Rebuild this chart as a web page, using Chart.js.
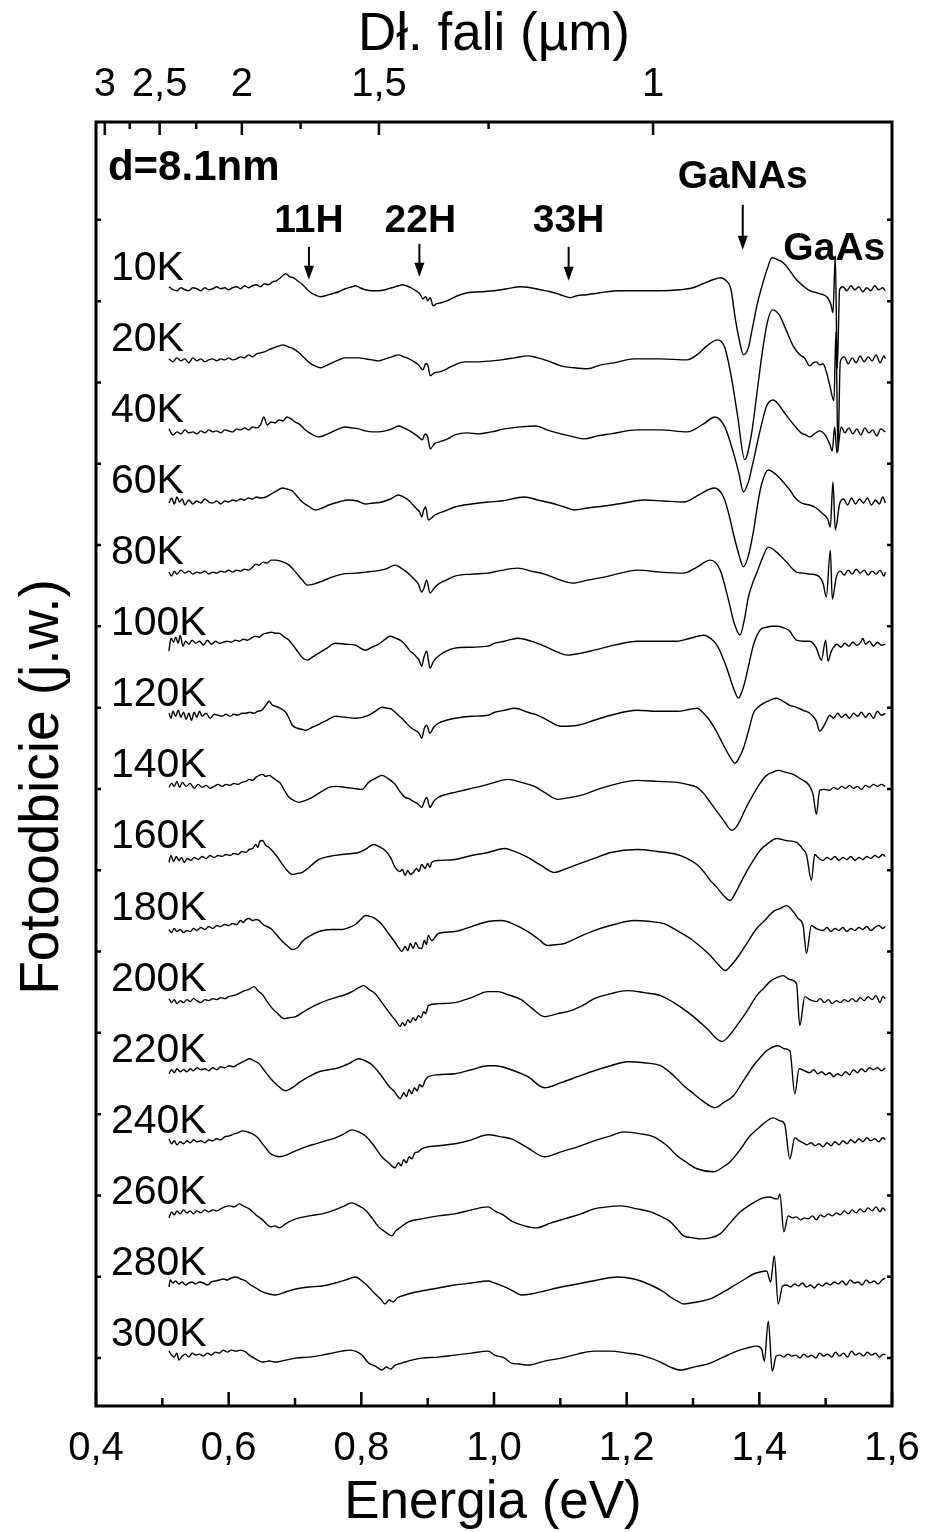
<!DOCTYPE html>
<html><head><meta charset="utf-8">
<script src="https://cdn.jsdelivr.net/npm/chart.js@4.4.1/dist/chart.umd.min.js"></script>
<style>html,body{margin:0;padding:0;background:#fff;overflow:hidden}#wrap{width:928px;height:1532px;position:relative}</style>
</head><body><div id="wrap"><canvas id="c"></canvas></div>
<script>
// ---- data ----
const temperatures = ['10K','20K','40K','60K','80K','100K','120K','140K','160K','180K','200K','220K','240K','260K','280K','300K'];
const spectrumShift = 71.2;           // vertical shift between successive spectra (a.u.)
const energyTicks = [0.4,0.6,0.8,1.0,1.2,1.4,1.6];
const energyMinorTicks = [0.5,0.7,0.9,1.1,1.3,1.5];
const wavelengthTicks = [3,2.5,2,1.5,1];
const wavelengthMinorTicks = [2.75,2.25,1.75,1.25];
const HC = 1.2398; // eV·µm

// each spectrum: pairs of [energy (eV), photoreflectance signal (a.u.)]
const s10K = [.510,2,.516,-1,.522,-2,.528,1,.534,-1,.540,-2,.546,1,.552,0,.558,-2,.564,1,.570,-1,.576,0,.582,2,.588,0,.594,1,.600,-1,.606,1,.612,2,.618,0,.624,3,.630,1,.636,3,.642,4,.648,2,.654,5,.660,4,.666,7,.672,8,.678,11,.686,15,.692,12,.698,11,.704,8,.710,5,.716,1,.722,-3,.730,-6,.738,-8,.746,-7,.756,-5,.766,-3,.776,0,.786,2,.791,3,.798,1,.806,-1,.816,-2,.826,-2,.836,-1,.846,1,.856,3,.862,4,.868,3,.875,1,.882,-2,.888,-5,.893,-10,.897,-8,.900,-12,.904,-9,.908,-17,.914,-15,.920,-14,.930,-12,.945,-7,.960,-4,.980,-3,1.000,-2,1.020,0,1.040,2,1.055,1,1.070,-1,1.085,-3,1.100,-6,1.115,-9,1.125,-7,1.140,-6,1.160,-4,1.190,-2,1.220,-2,1.250,-2,1.280,-1,1.300,1,1.315,5,1.330,9,1.342,11,1.350,8,1.357,0,1.364,-31,1.370,-52,1.376,-66,1.383,-60,1.390,-38,1.397,-15,1.405,5,1.412,20,1.419,31,1.428,29,1.436,26,1.446,18,1.456,9,1.466,3,1.476,-2,1.486,-4,1.496,-6,1.503,-9,1.508,-16,1.511,-24,1.5145,33,1.5175,-80,1.521,-1,1.526,2,1.532,-2,1.538,3,1.544,-1,1.550,2,1.556,-3,1.562,1,1.568,-2,1.574,3,1.580,-1,1.586,1,1.590,-2];
const s20K = [.510,1,.516,-2,.522,2,.528,-1,.534,1,.540,-3,.546,2,.552,-1,.558,1,.564,-2,.570,0,.576,1,.582,-1,.588,1,.594,0,.600,2,.606,0,.612,1,.618,3,.624,2,.630,5,.636,3,.642,6,.648,7,.654,8,.660,10,.668,12,.676,14,.682,15,.690,13,.698,11,.706,7,.714,2,.722,-3,.730,-6,.738,-8,.746,-6,.756,-3,.766,0,.776,2,.786,2,.796,2,.806,1,.816,0,.826,-1,.836,1,.846,3,.856,5,.864,3,.872,1,.880,-2,.886,-5,.893,-10,.897,-4,.900,-5,.904,-16,.910,-13,.918,-12,.926,-10,.941,-5,.956,-2,.976,-2,.996,-1,1.011,0,1.031,2,1.051,4,1.066,2,1.081,-1,1.101,-6,1.121,-8,1.141,-9,1.161,-5,1.181,-3,1.211,1,1.251,1,1.291,0,1.306,5,1.321,14,1.337,20,1.348,12,1.358,-18,1.367,-55,1.378,-100,1.388,-75,1.397,-30,1.405,10,1.413,40,1.420,50,1.430,45,1.441,29,1.451,14,1.461,5,1.468,2,1.476,-6,1.481,-3,1.486,-2,1.491,-5,1.496,-4,1.501,-12,1.506,-25,1.5125,-41,1.5155,28,1.5185,-92,1.522,-2,1.528,3,1.534,-4,1.540,2,1.546,-3,1.552,4,1.558,-2,1.564,3,1.570,-1,1.576,5,1.582,-3,1.588,4,1.590,1];
const s40K = [.510,2,.516,-4,.522,-1,.528,-3,.534,1,.540,-2,.546,-1,.552,-3,.558,0,.564,-2,.570,1,.576,-1,.582,0,.588,-2,.594,1,.600,0,.606,-1,.612,2,.618,1,.624,3,.630,1,.636,4,.642,3,.648,6,.653,14,.658,6,.664,9,.670,8,.676,11,.682,10,.688,14,.694,12,.700,9,.706,7,.714,2,.722,-2,.730,-5,.736,-6,.746,-4,.756,-1,.766,2,.776,4,.786,3,.796,2,.806,0,.816,-1,.826,-1,.836,0,.846,2,.856,5,.864,3,.873,0,.882,-4,.888,-7,.892,-9,.896,-3,.900,-6,.904,-18,.910,-13,.918,-11,.930,-8,.941,-4,.960,-2,.976,-3,.996,-1,1.016,2,1.040,4,1.063,5,1.080,1,1.101,-3,1.120,-6,1.136,-8,1.156,-5,1.176,-3,1.216,1,1.251,1,1.291,-1,1.316,7,1.333,14,1.348,4,1.361,-22,1.369,-42,1.376,-61,1.384,-50,1.391,-30,1.401,0,1.411,25,1.421,31,1.436,20,1.446,11,1.456,3,1.463,-2,1.470,-4,1.476,-6,1.483,-3,1.491,0,1.498,-3,1.506,-13,1.510,-20,1.5135,4,1.517,-22,1.5235,4,1.529,-2,1.535,3,1.541,-3,1.547,2,1.553,-4,1.559,3,1.565,-2,1.571,1,1.577,-5,1.583,2,1.590,-1];
const s60K = [.510,-1,.514,4,.518,-2,.522,5,.526,0,.530,3,.534,-3,.540,2,.546,-2,.552,1,.558,-1,.564,3,.570,0,.576,-1,.582,1,.588,-2,.594,1,.600,0,.606,2,.612,1,.618,3,.624,2,.630,4,.636,3,.642,5,.648,4,.656,5,.664,8,.672,11,.681,14,.688,13,.696,11,.704,5,.711,0,.720,-4,.731,-8,.741,-6,.751,-3,.766,0,.781,2,.794,1,.806,-2,.818,-1,.831,0,.844,3,.856,7,.864,5,.871,2,.878,-3,.8835,-7,.888,-10,.891,-15,.894,-8,.897,-5,.901,-18,.906,-16,.911,-13,.926,-9,.941,-5,.966,-2,.991,0,1.011,1,1.046,5,1.066,2,1.086,-1,1.106,-5,1.121,-8,1.141,-6,1.166,-4,1.196,-1,1.226,2,1.256,1,1.286,0,1.311,8,1.332,14,1.346,5,1.354,-12,1.361,-32,1.369,-52,1.376,-65,1.383,-55,1.391,-30,1.398,0,1.4035,18,1.4135,32,1.426,27,1.436,20,1.446,12,1.453,5,1.461,0,1.468,-2,1.476,-3,1.486,-6,1.496,-12,1.503,-17,1.507,-25,1.511,20,1.5145,-28,1.521,-2,1.527,3,1.533,-3,1.539,4,1.545,-2,1.551,3,1.557,-1,1.563,4,1.569,-3,1.575,2,1.581,-2,1.586,5,1.590,-1];
const s80K = [.510,1,.514,-3,.518,2,.522,-1,.528,3,.534,0,.540,2,.546,-1,.552,1,.558,0,.564,2,.570,-1,.576,1,.582,0,.588,2,.594,1,.600,3,.606,1,.612,3,.618,2,.624,4,.630,3,.636,6,.641,9,.646,8,.652,11,.658,10,.664,13,.671,13,.678,12,.686,10,.691,8,.697,4,.7035,-1,.711,-7,.7185,-12,.728,-11,.741,-8,.756,-4,.771,-1,.791,0,.806,1,.821,2,.836,4,.851,8,.860,5,.8685,1,.875,-3,.881,-7,.886,-11,.891,-19,.894,-16,.8985,-7,.9035,-20,.910,-15,.916,-11,.928,-7,.941,-3,.966,-1,.991,0,1.006,2,1.036,5,1.056,2,1.076,-1,1.096,-6,1.1185,-10,1.141,-7,1.166,-4,1.191,0,1.216,3,1.251,1,1.286,0,1.306,6,1.326,13,1.341,3,1.3535,-27,1.362,-50,1.371,-62,1.377,-48,1.3835,-24,1.390,-10,1.396,0,1.404,14,1.4135,26,1.426,21,1.441,11,1.456,1,1.466,0,1.476,-1,1.486,-2,1.491,-4,1.496,-10,1.501,-24,1.507,23,1.510,-26,1.516,-4,1.522,2,1.528,-2,1.534,3,1.540,-1,1.546,4,1.552,0,1.558,3,1.564,-2,1.570,2,1.576,-1,1.582,3,1.588,-3,1.590,1];
const s100K = [.510,-7,.513,6,.517,2,.520,7,.524,1,.527,9,.531,-2,.535,3,.540,0,.545,4,.550,1,.556,3,.562,-1,.568,4,.574,0,.580,3,.586,1,.592,2,.598,3,.604,2,.610,4,.616,3,.622,5,.628,4,.634,6,.640,8,.646,7,.652,10,.657,11,.664,12,.670,11,.676,11,.684,7,.691,4,.698,-2,.706,-9,.712,-14,.7185,-16,.726,-13,.736,-9,.748,-4,.761,1,.776,0,.791,-1,.806,-6,.816,-3,.826,0,.836,5,.8435,8,.852,6,.861,3,.868,-2,.8735,-7,.878,-9,.8835,-13,.887,-16,.891,-22,.894,-14,.8985,-7,.9035,-24,.909,-17,.916,-12,.928,-7,.941,-4,.966,-3,.991,-2,1.001,1,1.016,3,1.036,6,1.056,3,1.076,-2,1.096,-8,1.111,-11,1.131,-9,1.151,-6,1.181,-1,1.216,3,1.251,3,1.276,3,1.296,6,1.316,9,1.328,5,1.336,-1,1.344,-12,1.351,-24,1.361,-44,1.3685,-54,1.3735,-48,1.3785,-37,1.385,-18,1.391,-1,1.401,14,1.411,17,1.420,18,1.4285,18,1.438,16,1.446,13,1.451,8,1.456,4,1.466,3,1.476,3,1.481,1,1.486,-4,1.4935,-16,1.500,4,1.5035,-17,1.508,-8,1.511,-4,1.517,0,1.523,-3,1.529,1,1.535,-2,1.541,2,1.547,-1,1.553,2,1.556,6,1.560,0,1.566,3,1.572,-2,1.578,2,1.584,-1,1.590,0];
const s120K = [.510,2,.513,-3,.516,4,.520,-1,.524,5,.528,-2,.532,3,.536,-4,.540,2,.544,-5,.548,3,.552,-2,.556,4,.560,-1,.566,2,.572,-3,.578,1,.584,0,.590,-1,.596,1,.602,-1,.608,1,.614,0,.620,2,.626,2,.632,3,.638,2,.644,4,.650,5,.655,9,.661,14,.666,10,.671,9,.678,7,.686,3,.691,-3,.696,-10,.704,-13,.710,-14,.716,-15,.726,-12,.736,-9,.748,-5,.761,-1,.776,-2,.791,-3,.811,0,.821,4,.831,8,.840,7,.846,6,.854,1,.861,-3,.868,-8,.876,-13,.8835,-16,.887,-18,.891,-23,.895,-13,.8985,-10,.9035,-18,.909,-12,.916,-8,.928,-5,.941,-3,.966,-1,.991,0,1.001,3,1.016,5,1.031,7,1.051,3,1.066,0,1.081,-5,1.101,-11,1.126,-10,1.151,-5,1.176,0,1.216,5,1.246,4,1.276,4,1.296,6,1.306,7,1.316,2,1.326,-6,1.336,-17,1.346,-30,1.356,-42,1.3635,-48,1.370,-42,1.376,-33,1.384,-15,1.391,2,1.398,8,1.406,12,1.416,15,1.426,17,1.436,14,1.446,10,1.456,8,1.466,5,1.476,2,1.481,-1,1.486,-6,1.491,-16,1.496,-12,1.501,-6,1.506,0,1.512,-3,1.518,2,1.524,-2,1.530,1,1.536,-3,1.542,2,1.548,-1,1.554,3,1.560,-2,1.566,2,1.572,-3,1.578,4,1.584,0,1.590,2];
const s140K = [.510,-1,.514,3,.518,0,.522,5,.526,-1,.530,4,.536,0,.542,3,.548,-2,.554,2,.560,-1,.566,1,.572,-2,.578,0,.584,2,.590,0,.596,2,.602,1,.608,3,.614,2,.620,4,.626,5,.631,7,.636,6,.641,9,.646,11,.651,12,.656,10,.661,11,.666,9,.672,6,.678,3,.684,-4,.691,-11,.698,-14,.706,-16,.716,-14,.726,-11,.738,-6,.751,-1,.764,0,.776,-1,.788,-2,.801,-3,.811,4,.821,8,.831,11,.840,8,.846,5,.851,2,.858,-5,.866,-11,.871,-12,.876,-14,.881,-16,.886,-18,.891,-21,.895,-15,.8985,-11,.9035,-21,.909,-15,.916,-11,.928,-8,.941,-6,.966,-2,.991,2,1.001,4,1.021,7,1.041,4,1.061,0,1.076,-6,1.096,-13,1.116,-11,1.136,-8,1.156,-3,1.176,1,1.216,6,1.246,5,1.276,4,1.291,2,1.306,-1,1.316,-7,1.326,-16,1.336,-25,1.346,-34,1.3585,-44,1.366,-40,1.371,-34,1.381,-20,1.391,-8,1.401,3,1.411,11,1.420,14,1.4285,16,1.440,14,1.451,12,1.461,8,1.471,4,1.476,0,1.481,-8,1.486,-28,1.491,-4,1.498,-3,1.506,-4,1.512,-1,1.518,-3,1.524,0,1.530,-2,1.536,1,1.542,-2,1.548,0,1.554,-3,1.560,1,1.566,-1,1.572,2,1.578,0,1.584,2,1.590,0];
const s160K = [.510,-5,.513,2,.517,-4,.521,1,.525,-3,.529,0,.533,-5,.538,-1,.543,-3,.548,0,.554,-2,.560,1,.566,-1,.572,2,.578,0,.584,2,.590,1,.596,3,.602,2,.608,4,.614,3,.620,6,.626,5,.631,8,.636,9,.641,13,.644,10,.647,16,.651,17,.656,12,.661,10,.668,5,.674,0,.681,-7,.688,-13,.696,-17,.704,-16,.711,-15,.721,-10,.736,-2,.751,1,.771,3,.786,4,.796,5,.806,8,.8185,13,.826,11,.836,7,.844,0,.851,-10,.858,-14,.862,-12,.866,-18,.870,-13,.874,-17,.8785,-15,.883,-11,.887,-14,.891,-7,.896,-11,.900,-6,.9035,-10,.906,-5,.916,-3,.941,-2,.966,2,.991,5,1.016,9,1.031,6,1.051,0,1.071,-8,1.091,-15,1.106,-12,1.126,-7,1.151,-1,1.176,5,1.216,8,1.246,6,1.276,3,1.291,-1,1.306,-7,1.316,-14,1.326,-23,1.336,-30,1.346,-38,1.356,-43,1.366,-33,1.376,-20,1.388,-6,1.401,7,1.413,14,1.426,19,1.440,17,1.456,15,1.466,8,1.471,3,1.4785,-23,1.4835,3,1.490,-1,1.496,-3,1.502,0,1.508,-2,1.514,1,1.520,-3,1.526,0,1.532,-2,1.538,1,1.544,-3,1.550,0,1.556,-2,1.562,1,1.568,-1,1.574,2,1.580,0,1.586,3,1.590,1];
const s180K = [.510,-1,.514,-4,.518,0,.522,-3,.527,-1,.532,-4,.537,-2,.542,-3,.547,0,.552,-2,.558,1,.564,-1,.570,2,.576,0,.582,3,.588,2,.594,4,.600,3,.606,5,.612,4,.618,8,.622,6,.626,9,.631,10,.636,8,.641,9,.646,8,.652,4,.6635,0,.672,-6,.681,-13,.688,-17,.696,-21,.704,-19,.711,-13,.721,-8,.736,-3,.756,-1,.771,-1,.781,1,.791,4,.799,9,.806,13,.814,12,.821,10,.831,4,.841,-5,.851,-14,.856,-19,.861,-23,.866,-18,.870,-22,.874,-15,.878,-20,.882,-14,.886,-19,.891,-20,.895,-12,.898,-16,.901,-7,.906,-12,.916,-5,.941,-3,.966,2,.991,7,1.011,8,1.031,4,1.051,-3,1.066,-10,1.081,-17,1.096,-16,1.106,-15,1.126,-9,1.151,-2,1.181,4,1.211,8,1.236,7,1.256,5,1.276,-2,1.296,-10,1.311,-18,1.326,-27,1.338,-36,1.3485,-42,1.356,-38,1.366,-30,1.381,-15,1.396,0,1.408,8,1.421,17,1.431,20,1.441,23,1.451,17,1.4585,10,1.466,3,1.471,-25,1.4785,3,1.486,0,1.496,-2,1.502,1,1.508,-3,1.514,0,1.520,-2,1.526,1,1.532,-3,1.538,0,1.544,-2,1.550,1,1.556,-1,1.562,2,1.568,-2,1.574,1,1.580,3,1.586,0,1.590,2];
const s200K = [.510,1,.514,-3,.518,0,.522,-4,.527,-1,.532,-3,.537,0,.542,-2,.547,1,.552,-1,.558,-3,.564,0,.570,-1,.576,1,.582,0,.588,2,.594,1,.600,3,.606,4,.612,5,.618,7,.624,9,.630,10,.6385,13,.644,9,.651,5,.658,-2,.666,-9,.674,-14,.6835,-19,.692,-18,.701,-17,.711,-13,.721,-9,.736,-4,.751,0,.766,3,.776,5,.786,8,.796,12,.8035,14,.812,10,.821,6,.831,-3,.841,-12,.848,-18,.853,-22,.8585,-27,.862,-23,.866,-26,.870,-20,.874,-23,.878,-18,.882,-21,.886,-16,.890,-18,.894,-12,.897,-14,.901,-6,.916,-4,.941,-3,.966,2,.991,8,1.006,8,1.021,5,1.041,0,1.056,-8,1.076,-17,1.096,-14,1.116,-11,1.136,-5,1.151,1,1.176,6,1.201,9,1.226,7,1.251,4,1.271,-3,1.291,-12,1.306,-20,1.321,-29,1.3435,-42,1.356,-35,1.366,-26,1.381,-12,1.396,4,1.406,11,1.416,18,1.426,22,1.436,24,1.446,20,1.456,16,1.461,-26,1.4685,3,1.476,0,1.486,-2,1.492,1,1.498,-3,1.504,0,1.510,-4,1.516,-1,1.522,-3,1.528,0,1.534,-2,1.540,1,1.546,-2,1.552,2,1.558,-1,1.564,3,1.570,0,1.576,4,1.582,-3,1.586,3,1.590,1];
const s220K = [.510,-3,.514,1,.518,-2,.522,2,.527,-1,.532,1,.537,-1,.542,2,.547,0,.552,3,.558,1,.564,2,.570,0,.576,3,.582,1,.588,4,.594,3,.601,5,.607,4,.613,6,.619,8,.625,10,.631,12,.638,10,.646,7,.654,0,.6635,-8,.674,-15,.686,-20,.696,-17,.706,-12,.721,-6,.736,-1,.751,1,.766,3,.781,7,.796,12,.806,10,.816,6,.828,-3,.841,-15,.850,-21,.8585,-28,.864,-22,.868,-26,.872,-19,.876,-23,.880,-17,.884,-20,.888,-14,.892,-16,.896,-10,.901,-6,.916,-4,.941,-3,.966,1,.991,5,1.001,5,1.026,1,1.051,-6,1.076,-17,1.101,-12,1.126,-6,1.151,0,1.176,5,1.201,9,1.226,8,1.251,5,1.271,-5,1.286,-15,1.301,-23,1.316,-31,1.3335,-37,1.346,-32,1.361,-25,1.376,-10,1.391,5,1.401,13,1.411,20,1.4285,25,1.438,22,1.446,20,1.4535,-23,1.460,2,1.468,0,1.476,-2,1.482,1,1.488,-3,1.494,-1,1.500,-4,1.506,-2,1.512,-6,1.518,-3,1.524,-5,1.530,-1,1.536,-4,1.542,1,1.548,-2,1.554,2,1.560,-1,1.566,3,1.572,1,1.578,3,1.584,0,1.590,3];
const s240K = [.510,3,.514,-2,.518,1,.522,-3,.527,0,.532,-2,.537,1,.542,-1,.547,2,.552,0,.558,1,.564,-1,.570,2,.576,1,.582,3,.588,2,.594,5,.601,6,.608,8,.614,9,.621,11,.628,10,.636,8,.644,4,.651,-2,.657,-7,.663,-12,.670,-14,.676,-15,.688,-13,.701,-9,.716,-5,.731,-2,.746,1,.761,4,.774,8,.786,12,.796,10,.806,6,.818,-3,.831,-15,.841,-21,.851,-26,.856,-21,.860,-24,.864,-18,.868,-21,.872,-15,.876,-17,.881,-11,.886,-10,.891,-7,.916,-4,.941,-2,.966,2,.991,7,1.011,5,1.026,3,1.051,-6,1.076,-15,1.101,-10,1.126,-5,1.151,1,1.176,6,1.196,10,1.221,8,1.241,5,1.261,-4,1.276,-14,1.291,-21,1.306,-27,1.331,-30,1.346,-25,1.356,-20,1.371,-8,1.386,6,1.396,12,1.406,18,1.421,24,1.431,21,1.438,18,1.446,-17,1.4535,4,1.460,1,1.466,-1,1.472,-3,1.478,-1,1.484,-4,1.490,-2,1.496,-5,1.502,-1,1.508,-4,1.514,0,1.520,-3,1.526,1,1.532,-2,1.538,2,1.544,-1,1.550,3,1.556,0,1.562,4,1.568,1,1.574,3,1.580,0,1.586,4,1.590,2];
const s260K = [.510,-5,.514,1,.518,-2,.522,2,.527,-1,.532,3,.537,0,.542,2,.547,-1,.552,2,.558,0,.564,3,.570,1,.576,3,.582,2,.588,4,.594,6,.601,7,.608,6,.616,9,.622,7,.631,4,.641,-2,.651,-7,.657,-11,.6635,-14,.670,-13,.676,-15,.688,-10,.701,-6,.721,-3,.741,-1,.756,2,.771,6,.786,10,.796,7,.806,3,.816,-5,.826,-14,.836,-19,.846,-23,.852,-18,.858,-15,.871,-9,.891,-6,.916,-3,.941,-1,.966,3,.991,6,1.001,2,1.016,-3,1.026,-8,1.046,-13,1.0635,-15,1.086,-10,1.106,-6,1.131,-1,1.151,4,1.171,6,1.191,7,1.216,4,1.236,1,1.256,-5,1.266,-9,1.276,-16,1.286,-23,1.301,-25,1.311,-26,1.326,-25,1.341,-21,1.356,-10,1.371,1,1.386,8,1.396,12,1.406,15,1.416,16,1.424,14,1.428,14,1.431,19,1.437,-19,1.4435,-3,1.450,-5,1.456,-4,1.462,-7,1.468,-5,1.474,-6,1.480,-3,1.486,-7,1.492,-2,1.498,-4,1.504,-1,1.510,-3,1.516,0,1.522,-2,1.528,2,1.534,-1,1.540,3,1.546,0,1.552,4,1.558,1,1.564,5,1.570,2,1.576,6,1.582,1,1.586,5,1.590,2];
const s280K = [.510,-3,.512,4,.516,1,.520,3,.525,0,.530,2,.535,-1,.540,1,.545,2,.550,0,.556,2,.562,1,.568,-1,.574,2,.580,3,.586,4,.592,5,.598,4,.604,6,.611,7,.618,5,.626,3,.631,0,.641,-4,.651,-8,.661,-10,.671,-11,.686,-8,.701,-5,.721,-3,.741,-2,.761,1,.781,5,.791,7,.801,3,.811,-3,.821,-10,.829,-15,.836,-20,.842,-16,.848,-18,.854,-14,.861,-12,.876,-9,.891,-7,.916,-4,.941,-1,.966,1,.991,3,1.001,1,1.016,-3,1.031,-8,1.041,-11,1.056,-10,1.076,-7,1.101,-3,1.126,0,1.156,4,1.186,7,1.211,5,1.236,-1,1.256,-8,1.266,-13,1.276,-17,1.286,-20,1.306,-18,1.326,-15,1.346,-8,1.366,0,1.381,6,1.391,10,1.401,12,1.411,13,1.417,2,1.4225,28,1.4285,-20,1.435,-2,1.441,-1,1.447,-3,1.453,0,1.459,-2,1.465,1,1.471,-3,1.477,-1,1.483,-4,1.489,0,1.495,-2,1.501,1,1.507,-1,1.513,2,1.519,0,1.525,3,1.531,-1,1.537,4,1.543,1,1.549,2,1.555,-1,1.561,4,1.567,1,1.573,3,1.579,0,1.585,4,1.590,6];
const s300K = [.510,4,.514,0,.518,-2,.522,2,.525,-5,.530,-1,.535,1,.540,-2,.545,2,.550,0,.556,1,.562,-1,.568,2,.574,0,.580,3,.586,2,.592,5,.598,3,.604,5,.611,4,.618,5,.626,3,.631,0,.641,-4,.651,-7,.661,-6,.671,-7,.686,-5,.701,-3,.721,-2,.741,0,.756,2,.771,4,.781,5,.791,4,.801,0,.811,-8,.821,-11,.831,-15,.838,-12,.844,-14,.851,-10,.861,-8,.876,-5,.891,-3,.916,-2,.941,0,.966,2,.991,4,1.001,0,1.016,-3,1.026,-8,1.038,-9,1.051,-10,1.076,-6,1.101,-3,1.126,1,1.151,4,1.176,4,1.201,2,1.221,0,1.236,-3,1.251,-7,1.266,-12,1.281,-15,1.301,-12,1.326,-8,1.346,-2,1.366,4,1.381,7,1.396,9,1.4035,6,1.4075,-6,1.4135,34,1.4195,-16,1.4255,-1,1.431,0,1.437,-2,1.443,1,1.449,-1,1.455,0,1.461,-3,1.467,1,1.473,-2,1.479,0,1.485,-3,1.491,2,1.497,-1,1.503,1,1.509,-2,1.515,3,1.521,-1,1.527,2,1.533,-2,1.539,4,1.545,0,1.551,2,1.557,-1,1.563,3,1.569,0,1.575,2,1.581,-2,1.587,1,1.590,0];

const spectra = [s10K,s20K,s40K,s60K,s80K,s100K,s120K,s140K,s160K,s180K,s200K,s220K,s240K,s260K,s280K,s300K];

// annotations (energy in eV, vertical position in chart units)
const arrows = [
  {e:0.721, from:1110, to:1077},
  {e:0.8875, from:1113, to:1080},
  {e:1.1125, from:1110, to:1076},
  {e:1.375, from:1152, to:1107}
];
const labels = [
  {t:'11H', e:0.721, v:1125, align:'center', size:39},
  {t:'22H', e:0.889, v:1125, align:'center', size:39},
  {t:'33H', e:1.1125, v:1125, align:'center', size:39},
  {t:'GaNAs', e:1.375, v:1169, align:'center', size:39},
  {t:'GaAs', e:1.513, v:1097, align:'center', size:39},
  {t:'d=8.1nm', e:0.418, v:1177, align:'left', size:42}
];

// ---- chart ----
const FONT = "'Liberation Sans', Arial, Helvetica, sans-serif";
const nT = temperatures.length;
const offsetOf = i => (nT - 1 - i) * spectrumShift;

const datasets = spectra.map((s, i) => {
  const pts = [];
  for (let k = 0; k < s.length; k += 2) pts.push({x: s[k], y: offsetOf(i) + s[k + 1]});
  return {label: temperatures[i], data: pts, borderColor: '#000', backgroundColor: '#000',
          borderWidth: 1.4, pointRadius: 0, showLine: true, fill: false,
          cubicInterpolationMode: 'monotone'};
});

const yFrameTicks = [];
for (let k = 0; k < 15; k++) yFrameTicks.push(-3 + k * 81.43);

const decor = {
  id: 'decor',
  afterDraw(chart) {
    const {ctx, chartArea: a, scales: {x, y}} = chart;
    ctx.save();
    ctx.strokeStyle = '#000'; ctx.fillStyle = '#000';
    ctx.lineWidth = 2.5;
    ctx.beginPath();
    energyTicks.forEach(v => { const p = x.getPixelForValue(v); ctx.moveTo(p, a.bottom); ctx.lineTo(p, a.bottom - 14); });
    energyMinorTicks.forEach(v => { const p = x.getPixelForValue(v); ctx.moveTo(p, a.bottom); ctx.lineTo(p, a.bottom - 8); });
    wavelengthTicks.forEach(w => { const p = x.getPixelForValue(HC / w); ctx.moveTo(p, a.top); ctx.lineTo(p, a.top + 13); });
    wavelengthMinorTicks.forEach(w => { const p = x.getPixelForValue(HC / w); ctx.moveTo(p, a.top); ctx.lineTo(p, a.top + 7); });
    yFrameTicks.forEach(v => { const p = y.getPixelForValue(v);
      ctx.moveTo(a.left, p); ctx.lineTo(a.left + 5, p); ctx.moveTo(a.right, p); ctx.lineTo(a.right - 5, p); });
    ctx.stroke();
    ctx.lineWidth = 3;
    ctx.strokeRect(a.left, a.top, a.right - a.left, a.bottom - a.top);
    ctx.font = '41px ' + FONT; ctx.textAlign = 'left'; ctx.textBaseline = 'alphabetic';
    temperatures.forEach((t, i) => ctx.fillText(t, x.getPixelForValue(0.4225), y.getPixelForValue(offsetOf(i) + 9)));
    labels.forEach(l => { ctx.font = 'bold ' + l.size + 'px ' + FONT; ctx.textAlign = l.align;
      ctx.fillText(l.t, x.getPixelForValue(l.e), y.getPixelForValue(l.v)); });
    arrows.forEach(ar => {
      const px = x.getPixelForValue(ar.e), y1 = y.getPixelForValue(ar.from), y2 = y.getPixelForValue(ar.to);
      ctx.lineWidth = 2; ctx.beginPath(); ctx.moveTo(px, y1); ctx.lineTo(px, y2 - 10); ctx.stroke();
      ctx.beginPath(); ctx.moveTo(px - 5, y2 - 14); ctx.lineTo(px + 5, y2 - 14); ctx.lineTo(px, y2); ctx.closePath(); ctx.fill();
    });
    ctx.font = '53px ' + FONT; ctx.textAlign = 'center';
    ctx.fillText('Energia (eV)', 493, 1518);
    ctx.fillText('Dł. fali (\u00b5m)', 494, 50);
    ctx.save(); ctx.translate(58, 787); ctx.rotate(-Math.PI / 2); ctx.font = '55px ' + FONT;
    ctx.fillText('Fotoodbicie (j.w.)', 0, 0); ctx.restore();
    ctx.restore();
  }
};

const noSidePad = s => { s.paddingLeft = 0; s.paddingRight = 0; };

new Chart(document.getElementById('c'), {
  type: 'scatter',
  data: {datasets},
  options: {
    responsive: true, maintainAspectRatio: false, animation: false,
    layout: {padding: {left: 96, right: 36, top: 0, bottom: 0}},
    plugins: {legend: {display: false}, tooltip: {enabled: false}},
    scales: {
      x: {type: 'linear', position: 'bottom', min: 0.4, max: 1.6,
          afterBuildTicks: s => { s.ticks = energyTicks.map(v => ({value: v})); },
          afterFit: s => { s.height = 126; noSidePad(s); },
          grid: {display: false, drawTicks: false}, border: {display: false},
          ticks: {autoSkip: false, maxRotation: 0, padding: 19, color: '#000',
                  font: {family: FONT, size: 40},
                  callback: v => v.toFixed(1).replace('.', ',')}},
      x2: {type: 'linear', axis: 'x', position: 'top', min: 0.4, max: 1.6,
          afterBuildTicks: s => { s.ticks = wavelengthTicks.map(w => ({value: HC / w})); },
          afterFit: s => { s.height = 122; noSidePad(s); },
          grid: {display: false, drawTicks: false}, border: {display: false},
          ticks: {autoSkip: false, maxRotation: 0, padding: 13, color: '#000',
                  font: {family: FONT, size: 40},
                  callback: (v, i) => String(wavelengthTicks[i]).replace('.', ',')}},
      y: {type: 'linear', display: false, min: -51, max: 1235}
    }
  },
  plugins: [decor]
});
</script></body></html>
